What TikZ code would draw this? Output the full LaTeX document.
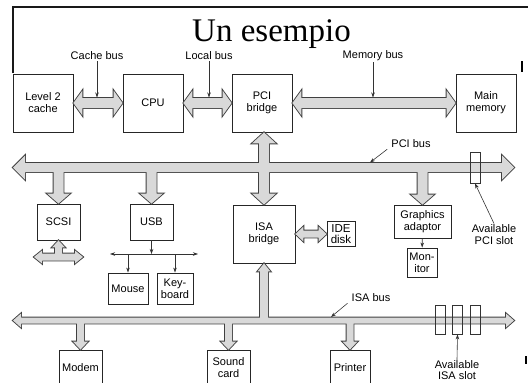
\documentclass[tikz,border=0pt]{standalone}
\usepackage{fontspec}
\setmainfont{Liberation Sans}
\newfontfamily\titlefont{Liberation Serif}
\usetikzlibrary{calc,arrows.meta}

\definecolor{busgray}{gray}{0.85}
\newcommand{\lblfont}{\fontsize{11}{12}\selectfont}

% fat double arrow, horizontal: from, to, shaft, head, head length
\newcommand{\hfat}[5]{%
  \path[bus] let \p1=(#1), \p2=(#2) in
    (\x1,\y1) -- ({\x1+#5},{\y1+#4}) -- ({\x1+#5},{\y1+#3}) -- ({\x2-#5},{\y1+#3})
    -- ({\x2-#5},{\y1+#4}) -- (\x2,\y1) -- ({\x2-#5},{\y1-#4}) -- ({\x2-#5},{\y1-#3})
    -- ({\x1+#5},{\y1-#3}) -- ({\x1+#5},{\y1-#4}) -- cycle;}
% fat single arrow, vertical: tail, tip, shaft, head, head length
\newcommand{\vfat}[5]{%
  \path[bus] let \p1=(#1), \p2=(#2), \n1={sign(\y2-\y1)} in
    ({\x2-#3},\y1) -- ({\x2-#3},{\y2-\n1*#5}) -- ({\x2-#4},{\y2-\n1*#5}) -- (\x2,\y2)
    -- ({\x2+#4},{\y2-\n1*#5}) -- ({\x2+#3},{\y2-\n1*#5}) -- ({\x2+#3},\y1) -- cycle;}
% fat double arrow, vertical
\newcommand{\vdfat}[5]{%
  \path[bus] let \p1=(#1), \p2=(#2), \n1={sign(\y2-\y1)} in
    (\x2,\y1) -- ({\x2-#4},{\y1+\n1*#5}) -- ({\x2-#3},{\y1+\n1*#5})
    -- ({\x2-#3},{\y2-\n1*#5}) -- ({\x2-#4},{\y2-\n1*#5}) -- (\x2,\y2)
    -- ({\x2+#4},{\y2-\n1*#5}) -- ({\x2+#3},{\y2-\n1*#5})
    -- ({\x2+#3},{\y1+\n1*#5}) -- ({\x2+#4},{\y1+\n1*#5}) -- cycle;}

% all the buses, drawn twice (outline, then fill only)
\newcommand{\busshapes}{%
  \hfat{l2cache.east}{cpu.west}{5pt}{12.5pt}{9pt}
  \hfat{cpu.east}{pcibr.west}{5pt}{12.5pt}{9pt}
  \hfat{pcibr.east}{mainmem.west}{5pt}{12.5pt}{9pt}
  \hfat{pcil}{pcir}{4.5pt}{12pt}{12pt}
  \vdfat{pcibr.south}{isabr.north}{5pt}{12pt}{11pt}
  \vfat{scsi.north |- pcil}{scsi.north}{5pt}{11.5pt}{10pt}
  \vfat{usb.north |- pcil}{usb.north}{5pt}{11.5pt}{10pt}
  \vfat{gfx.north |- pcil}{gfx.north}{5pt}{11.5pt}{10pt}
  \hfat{isal}{isar}{3pt}{7pt}{8pt}
  \vfat{isabr.south |- isal}{isabr.south}{4pt}{6.5pt}{8pt}
  \vfat{modem.north |- isal}{modem.north}{3.5pt}{7.5pt}{8pt}
  \vfat{sound.north |- isal}{sound.north}{3.5pt}{7.5pt}{8pt}
  \vfat{printer.north |- isal}{printer.north}{3.5pt}{7.5pt}{8pt}
  \hfat{isabr.east}{ide.west}{3.5pt}{7.5pt}{8pt}
  \vfat{scsi.south |- scsil}{scsi.south}{3.5pt}{6.5pt}{7pt}
  \hfat{scsil}{scsir}{3.5pt}{6.5pt}{8pt}
}

\begin{document}
\begin{tikzpicture}[x=1pt,y=-1pt]
  \useasboundingbox (0,0) rectangle (528,383);

  % Define styles for nodes
  \tikzstyle{box} = [draw=black!85, line width=0.9pt, rectangle, align=center,
  inner sep=0pt, font=\lblfont]
  \tikzstyle{buslabel} = [inner sep=1pt, align=center,
  font=\fontsize{11}{11.5}\selectfont]
  \tikzstyle{pointer} = [-{Stealth[length=5pt,width=3.5pt]}, line width=0.6pt,
  black!80]
  \tikzstyle{slot} = [draw=black!80, line width=0.9pt, rectangle,
  minimum width=10pt, inner sep=0pt]

  % Title
  \draw[line width=1.3pt, black!90] (13,73) -- (13,7) -- (528,7);
  \draw[line width=1.8pt] (522,61) -- (522,72);
  \node[anchor=base, inner sep=0pt, font=\titlefont\fontsize{33}{36}\selectfont]
  (title) at (271.5,41.5) {Un esempio};

  % Top row
  \node[box, minimum width=60pt, minimum height=58pt] (l2cache) at (43,103) {Level 2\\cache};
  \node[box, minimum width=60pt, minimum height=58pt] (cpu) at (153,103) {CPU};
  \node[box, minimum width=60pt, minimum height=58pt] (pcibr) at (262,103) {PCI\\bridge};
  \node[box, minimum width=60pt, minimum height=58pt] (mainmem) at (486,103) {Main\\memory};

  % Devices on the PCI bus
  \node[box, minimum width=43pt, minimum height=36pt] (scsi) at (58.5,222) {SCSI};
  \node[box, minimum width=43pt, minimum height=36pt] (usb) at (151.5,222) {USB};
  \node[box, minimum width=62pt, minimum height=58pt] (isabr) at (264,234) {ISA\\bridge};
  \node[box, minimum width=28pt, minimum height=25pt,
  font=\fontsize{11.5}{11.5}\selectfont] (ide) at (341,234) {IDE\\disk};
  \node[box, minimum width=57pt, minimum height=33pt] (gfx) at (422.5,221.5) {Graphics\\adaptor};
  \node[box, minimum width=30pt, minimum height=29pt,
  font=\fontsize{11}{12}\selectfont] (monitor) at (422,262.5) {Mon-\\itor};
  \node[box, minimum width=40pt, minimum height=31pt] (mouse) at (128,288.5) {Mouse};
  \node[box, minimum width=36pt, minimum height=31pt] (keyb) at (175,288.5) {Key-\\board};

  % Devices on the ISA bus
  \node[box, minimum width=43pt, minimum height=36pt] (modem) at (80.5,368) {Modem};
  \node[box, minimum width=43pt, minimum height=36pt] (sound) at (228.5,368) {Sound\\card};
  \node[box, minimum width=40pt, minimum height=36pt] (printer) at (350,368) {Printer};

  % Bus ends
  \coordinate (pcil) at (13,167.5);
  \coordinate (pcir) at (514,167.5);
  \coordinate (isal) at (13,320.5);
  \coordinate (isar) at (514,320.5);
  \coordinate (scsil) at (34,257);
  \coordinate (scsir) at (83,257);

  % Buses
  \begin{scope}[bus/.style={draw=black!75, line width=1.8pt, fill=busgray}]
    \busshapes
  \end{scope}
  \begin{scope}[bus/.style={fill=busgray}]
    \busshapes
  \end{scope}

  % Slots
  \node[slot, minimum height=31pt] (pcislot) at (475,167.5) {};
  \node[slot, minimum height=29pt] (isaslot1) at (440.5,319.5) {};
  \node[slot, minimum height=29pt] (isaslot2) at (457.5,319.5) {};
  \node[slot, minimum height=29pt] (isaslot3) at (475.5,319.5) {};

  % Bus labels
  \node[buslabel] (cachelab) at (97,56) {Cache bus};
  \node[buslabel] (locallab) at (209,56) {Local bus};
  \node[buslabel] (memlab) at (373,56) {Memory bus};
  \node[buslabel] (pcilab) at (411,144) {PCI bus};
  \node[buslabel] (isalab) at (371,298) {ISA bus};
  \node[buslabel] (pcislotlab) at (494,234.5) {Available\\PCI slot};
  \node[buslabel, font=\fontsize{11}{11}\selectfont] (isaslotlab) at (457,370.5) {Available\\ISA slot};

  \coordinate (cachetap) at (97,97.5);
  \coordinate (localtap) at (209,97.5);
  \coordinate (memtap) at (373,97.5);
  \coordinate (pcitap) at (370,162.5);
  \coordinate (isatap) at (331,317);
  \draw[pointer] (cachelab) -- (cachetap);
  \draw[pointer] (locallab) -- (localtap);
  \draw[pointer] (memlab) -- (memtap);
  \draw[pointer] ([xshift=-3pt]pcilab.south west) -- (pcitap);
  \draw[pointer] ([xshift=-3pt]isalab.south west) -- (isatap);
  \draw[pointer] (pcislotlab.north) -- (pcislot.south);
  \draw[pointer] (isaslotlab.north) -- (isaslot2.south);

  % USB and monitor connections
  \coordinate (usbhub) at (151.5,254);
  \coordinate (usbleft) at (110,254);
  \coordinate (usbright) at (198,254);
  \draw[pointer] (usb) -- (usbhub);
  \draw[pointer, {Stealth[length=5pt,width=3.5pt]}-{Stealth[length=5pt,width=3.5pt]}]
  (usbleft) -- (usbright);
  \draw[pointer] (mouse.north |- usbleft) -- (mouse);
  \draw[pointer] (keyb.north |- usbleft) -- (keyb);
  \draw[pointer] (gfx) -- (monitor);

  % mark at right edge
  \draw[line width=1.5pt] (526,356) -- (526,364);
\end{tikzpicture}
\end{document}
